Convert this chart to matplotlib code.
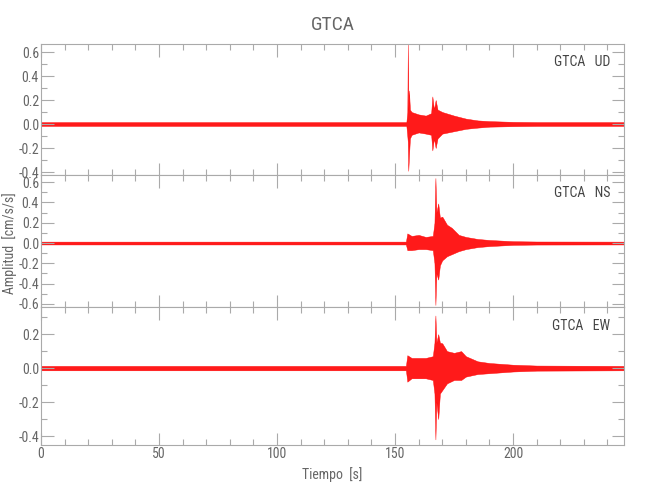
import matplotlib
matplotlib.use("Agg")
import matplotlib.pyplot as plt
from matplotlib.ticker import MultipleLocator, FormatStrFormatter
from matplotlib import font_manager

# ---- data (envelope of each trace) ----
station = "GTCA"
components = ["UD", "NS", "EW"]

ud_t  = [0, 154.8, 155.2, 155.4, 155.6, 155.9, 156.3, 157, 160, 163, 165.3, 165.8, 166.5, 167.2, 168, 170, 175, 180, 185, 190, 200, 210, 247]
ud_hi = [0.016, 0.016, 0.10, 0.67, 0.12, 0.28, 0.12, 0.10, 0.08, 0.07, 0.09, 0.23, 0.12, 0.20, 0.12, 0.10, 0.07, 0.045, 0.03, 0.024, 0.018, 0.016, 0.016]
ud_lo = [-0.016, -0.016, -0.10, -0.15, -0.39, -0.27, -0.12, -0.09, -0.07, -0.08, -0.09, -0.22, -0.12, -0.20, -0.12, -0.08, -0.06, -0.04, -0.03, -0.022, -0.018, -0.016, -0.016]

ns_t  = [0, 154.6, 155.2, 157, 160, 163, 166, 166.7, 167.1, 167.5, 168.3, 169, 170, 172, 174, 177, 180, 185, 190, 200, 210, 247]
ns_hi = [0.014, 0.014, 0.095, 0.07, 0.08, 0.06, 0.07, 0.20, 0.64, 0.30, 0.39, 0.25, 0.26, 0.18, 0.15, 0.08, 0.06, 0.04, 0.03, 0.018, 0.015, 0.014]
ns_lo = [-0.014, -0.014, -0.07, -0.07, -0.06, -0.06, -0.07, -0.20, -0.61, -0.30, -0.36, -0.22, -0.17, -0.13, -0.11, -0.08, -0.06, -0.04, -0.03, -0.018, -0.015, -0.014]

ew_t  = [0, 154.6, 155.2, 157, 160, 163, 166, 166.7, 167.1, 167.5, 168.3, 169, 170, 172, 175, 178, 180, 185, 190, 200, 210, 247]
ew_hi = [0.013, 0.013, 0.076, 0.06, 0.06, 0.06, 0.07, 0.15, 0.31, 0.15, 0.20, 0.15, 0.146, 0.10, 0.09, 0.10, 0.07, 0.04, 0.03, 0.02, 0.015, 0.013]
ew_lo = [-0.013, -0.013, -0.08, -0.06, -0.06, -0.06, -0.07, -0.15, -0.42, -0.20, -0.30, -0.15, -0.13, -0.09, -0.07, -0.07, -0.05, -0.035, -0.03, -0.02, -0.015, -0.013]

x_limits = (0, 247)
y_limits = [(-0.425, 0.667), (-0.63, 0.67), (-0.453, 0.36)]
x_major = 50
x_minor = 10
y_major = 0.2
y_minor = 0.1

title = "GTCA"
xlabel = "Tiempo  [s]"
ylabel = "Amplitud  [cm/s/s]"

# ---- style ----
names = {f.name for f in font_manager.fontManager.ttflist}
fam = None
for cand in ["Liberation Sans Narrow", "DejaVu Sans Condensed", "Roboto Condensed", "Open Sans Condensed"]:
    if cand in names:
        fam = cand
        break
if fam is None:
    fam = "DejaVu Sans"
plt.rcParams["font.family"] = [fam, "DejaVu Sans"]
plt.rcParams["font.stretch"] = "condensed"
gray = "#666666"
frame = "#aaaaaa"
tsize = 10

fig = plt.figure(figsize=(6.5, 5), dpi=100)
left, right = 41 / 650, 624 / 650
bounds = [(44, 175), (175, 307), (307, 445)]
traces = [(ud_t, ud_hi, ud_lo), (ns_t, ns_hi, ns_lo), (ew_t, ew_hi, ew_lo)]

axes = []
for i, ((top, bot), (t, hi, lo)) in enumerate(zip(bounds, traces)):
    ax = fig.add_axes([left, 1 - bot / 500, right - left, (bot - top) / 500])
    ax.fill_between(t, lo, hi, facecolor="#ff1a1a", linewidth=0.3, edgecolor="red")
    ax.set_xlim(*x_limits)
    ax.set_ylim(*y_limits[i])
    ax.xaxis.set_major_locator(MultipleLocator(x_major))
    ax.xaxis.set_minor_locator(MultipleLocator(x_minor))
    ax.yaxis.set_major_locator(MultipleLocator(y_major))
    ax.yaxis.set_minor_locator(MultipleLocator(y_minor))
    ax.yaxis.set_major_formatter(FormatStrFormatter("%.1f"))
    ax.tick_params(which="both", direction="in", top=True, right=True,
                   color=frame, labelcolor=gray, labelsize=tsize, pad=1.5)
    ax.tick_params(which="major", length=9, width=0.8)
    ax.tick_params(which="minor", length=4.5, width=0.8)
    for s in ax.spines.values():
        s.set_color(frame)
        s.set_linewidth(0.8)
    if i < 2:
        ax.tick_params(labelbottom=False)
    ax.text(0.976, 0.86, f"{station}   {components[i]}", transform=ax.transAxes,
            ha="right", va="center", color="#444444", fontsize=tsize)
    axes.append(ax)

axes[0].set_title(title, color=gray, fontsize=14, pad=10)
axes[2].set_xlabel(xlabel, color=gray, fontsize=tsize, labelpad=4)
fig.text(10 / 650, 1 - 243 / 500, ylabel, rotation=90, ha="center", va="center",
         color=gray, fontsize=tsize)

fig.savefig("out.png", dpi=100)
